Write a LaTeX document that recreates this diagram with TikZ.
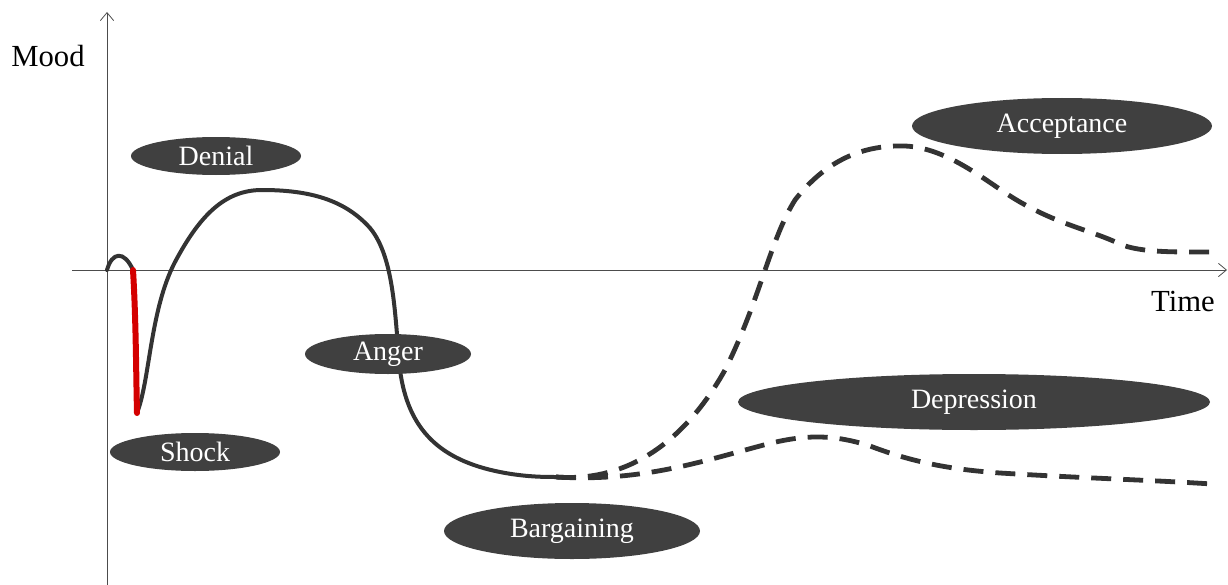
\documentclass[tikz,border=0pt]{standalone}
\usepackage{fontspec}
\setmainfont{Liberation Serif}
\usetikzlibrary{shapes.geometric,arrows.meta}
\definecolor{pill}{HTML}{404040}
\definecolor{curve}{HTML}{333333}
\definecolor{shockred}{HTML}{D40000}
\begin{document}
\begin{tikzpicture}[x=0.75pt,y=-0.75pt,
  stage/.style 2 args={ellipse,fill=pill,text=white,inner sep=0pt,
    minimum width=#1*0.75pt,minimum height=#2*0.75pt,font=\fontsize{21}{24}\selectfont},
  axis/.style={draw=black!70,line width=0.6pt,-{Straight Barb[length=6pt,width=10pt]}},
  lbl/.style={font=\fontsize{23}{26}\selectfont,inner sep=0pt},
  solidc/.style={draw=curve,line width=3pt,line cap=round,line join=round},
  dashc/.style={draw=curve,line width=3.6pt,dash pattern=on 15pt off 9pt}]
\useasboundingbox (0,0) rectangle (1228,585);
% axes
\coordinate (yb) at (107,585);
\coordinate (yt) at (107,12);
\coordinate (xl) at (72,270);
\coordinate (xr) at (1227,270);
\draw[axis] (yb) -- (yt);
\draw[axis] (xl) -- (xr);
\node[lbl] (mood) at (48,56) {Mood};
\node[lbl] (time) at (1183,301) {Time};
% curves
\coordinate (s0) at (107,270);
\coordinate (s1) at (133,270);
\coordinate (s2) at (137,413);
\coordinate (b0) at (556,477);
\draw[solidc] (s0) .. controls (112,252) and (124,250) .. (s1);
\draw[solidc] (s2) .. controls (150,380) and (150,310) .. (175,262)
  .. controls (200,215) and (225,190) .. (262,190)
  .. controls (310,190) and (345,200) .. (370,228)
  .. controls (395,258) and (395,320) .. (400,370)
  .. controls (408,430) and (440,460) .. (500,472)
  .. controls (525,477) and (545,477) .. (b0);
\draw[draw=shockred,line width=4.5pt,line cap=round] (s1) .. controls (136,320) and (136,370) .. (s2);
\draw[dashc] (b0) .. controls (620,482) and (680,450) .. (725,370)
  .. controls (760,300) and (770,240) .. (795,200)
  .. controls (830,155) and (870,145) .. (905,146)
  .. controls (950,148) and (990,185) .. (1020,202)
  .. controls (1060,225) and (1090,230) .. (1120,244)
  .. controls (1140,253) and (1180,252) .. (1212,252);
\draw[dashc] (b0) .. controls (640,482) and (700,462) .. (760,446)
  .. controls (800,435) and (830,433) .. (870,446)
  .. controls (920,465) and (960,470) .. (1000,473)
  .. controls (1080,478) and (1150,480) .. (1212,484);
% stage labels
\node[stage={170}{38}] (denial) at (216,156) {Denial};
\node[stage={170}{38}] (shock) at (195,452) {Shock};
\node[stage={166}{40}] (anger) at (388,354) {Anger};
\node[stage={256}{56}] (bargaining) at (572,531) {Bargaining};
\node[stage={472}{56}] (depression) at (974,402) {Depression};
\node[stage={300}{56}] (acceptance) at (1062,126) {Acceptance};
\end{tikzpicture}
\end{document}
